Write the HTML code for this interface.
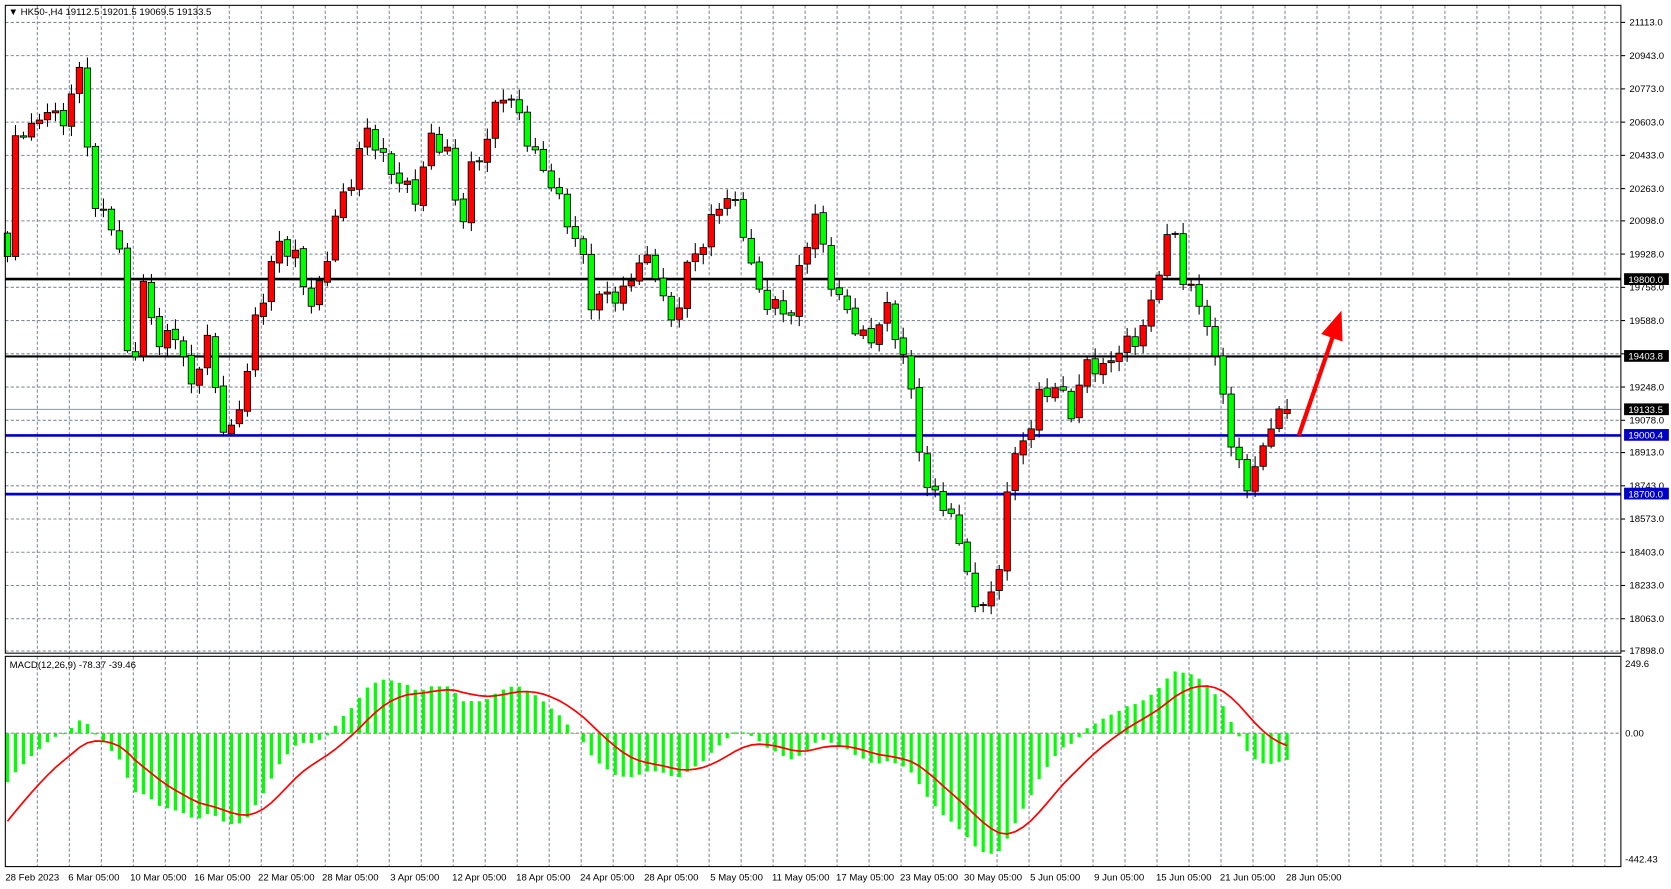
<!DOCTYPE html>
<html><head><meta charset="utf-8"><style>
html,body{margin:0;padding:0;background:#fff;overflow:hidden}
svg{display:block;font-family:"Liberation Sans",sans-serif}
</style></head><body>
<svg id="s" width="1671" height="889" viewBox="0 0 1567 833" preserveAspectRatio="none" xmlns="http://www.w3.org/2000/svg">
<rect x="0" y="0" width="1567" height="833" fill="#fff"/>
<g id="grid" stroke="#7f8a99" stroke-width="1" stroke-dasharray="3,2"></g>
<line x1="5" y1="261.5" x2="1520" y2="261.5" stroke="#000" stroke-width="2.5"/>
<line x1="5" y1="334" x2="1520" y2="334" stroke="#000" stroke-width="2"/>
<line x1="5" y1="383.6" x2="1520" y2="383.6" stroke="#8a96a8" stroke-width="1"/>
<line x1="5" y1="408" x2="1520" y2="408" stroke="#0000c8" stroke-width="2.5"/>
<line x1="5" y1="463" x2="1520" y2="463" stroke="#0000c8" stroke-width="2.5"/>
<g id="candles"></g>
<g id="macd"></g>
<rect x="5" y="5" width="1515" height="607" fill="none" stroke="#000" stroke-width="1"/>
<rect x="5" y="615" width="1515" height="197" fill="none" stroke="#000" stroke-width="1"/>
<line x1="1218" y1="408" x2="1250" y2="315" stroke="#ff0000" stroke-width="4"/>
<polygon points="1258,291 1239,313 1259,320" fill="#ff0000"/>
<g font-size="9" fill="#000" id="lbl">
<text x="8" y="14" font-size="9">▼ HK50-,H4  19112.5 19201.5 19069.5 19133.5</text>
<text x="9" y="626" font-size="9">MACD(12,26,9) -78.37 -39.46</text>
</g>
<g id="plabels" font-size="9" fill="#000"></g>
<rect x="1523" y="256" width="42" height="11" fill="#000"/><text x="1527" y="265" font-size="9" fill="#fff">19800.0</text>
<rect x="1523" y="328" width="42" height="11" fill="#000"/><text x="1527" y="337" font-size="9" fill="#fff">19403.8</text>
<rect x="1523" y="378" width="42" height="11" fill="#000"/><text x="1527" y="387" font-size="9" fill="#fff">19133.5</text>
<rect x="1523" y="402" width="42" height="11" fill="#0000c8"/><text x="1527" y="411" font-size="9" fill="#fff">19000.4</text>
<rect x="1523" y="457" width="42" height="11" fill="#0000c8"/><text x="1527" y="466" font-size="9" fill="#fff">18700.0</text>
<text x="1524" y="625" font-size="9">249.6</text>
<text x="1524" y="690" font-size="9">0.00</text>
<text x="1524" y="808" font-size="9">-442.43</text>
<g font-size="9" fill="#000">
<text x="5" y="825">28 Feb 2023</text>
<text x="64" y="825">6 Mar 05:00</text>
<text x="122" y="825">10 Mar 05:00</text>
<text x="182" y="825">16 Mar 05:00</text>
<text x="242" y="825">22 Mar 05:00</text>
<text x="302" y="825">28 Mar 05:00</text>
<text x="366" y="825">3 Apr 05:00</text>
<text x="424" y="825">12 Apr 05:00</text>
<text x="484" y="825">18 Apr 05:00</text>
<text x="544" y="825">24 Apr 05:00</text>
<text x="604" y="825">28 Apr 05:00</text>
<text x="666" y="825">5 May 05:00</text>
<text x="724" y="825">11 May 05:00</text>
<text x="784" y="825">17 May 05:00</text>
<text x="844" y="825">23 May 05:00</text>
<text x="904" y="825">30 May 05:00</text>
<text x="966" y="825">5 Jun 05:00</text>
<text x="1026" y="825">9 Jun 05:00</text>
<text x="1084" y="825">15 Jun 05:00</text>
<text x="1144" y="825">21 Jun 05:00</text>
<text x="1206" y="825">28 Jun 05:00</text>
</g>
</svg>
<script>
var NS="http://www.w3.org/2000/svg";
function el(t,a,p){var e=document.createElementNS(NS,t);for(var k in a)e.setAttribute(k,a[k]);p.appendChild(e);return e;}
function Y(p){return 21+(21113-p)*0.1832;}
function P(y){return 21113-(y-21)/0.1832;}
var grid=document.getElementById('grid');
for(var x=35;x<1520;x+=30){el('line',{x1:x,y1:5,x2:x,y2:612},grid);el('line',{x1:x,y1:615,x2:x,y2:812},grid);}
var ticks=[21113,20943,20773,20603,20433,20263,20098,19928,19758,19588,19418,19248,19078,18913,18743,18573,18403,18233,18063,17898];
var pl=document.getElementById('plabels');
ticks.forEach(function(t){var y=Y(t);el('line',{x1:5,y1:y,x2:1520,y2:y},grid);
 if(t!==19418){var tx=el('text',{x:1528,y:y+3},pl);tx.textContent=t.toFixed(1);}
 el('line',{x1:1520,y1:y,x2:1524,y2:y,stroke:'#000'},pl);});
el('line',{x1:5,y1:687,x2:1520,y2:687},grid);
var K=[[7,245],[12,145],[20,125],[35,118],[43,90],[58,118],[73,65],[80,115],[88,200],[110,205],[118,320],[125,340],[135,270],[150,330],[165,310],[180,360],[193,310],[208,400],[215,420],[230,360],[240,295],[260,225],[275,240],[290,290],[300,270],[315,195],[330,165],[345,125],[360,155],[375,165],[390,180],[405,130],[420,150],[432,220],[440,160],[455,130],[470,85],[485,110],[500,145],[515,160],[530,200],[545,240],[555,290],[570,275],[585,270],[600,240],[615,260],[630,310],[645,245],[660,220],[680,185],[695,210],[710,270],[725,280],[740,300],[755,240],[765,200],[775,250],[790,280],[805,310],[815,330],[830,290],[848,330],[860,395],[868,460],[880,465],[890,490],[905,520],[915,575],[925,545],[935,560],[945,450],[955,430],[965,405],[975,370],[990,355],[1005,385],[1020,345],[1035,350],[1050,320],[1065,315],[1080,290],[1090,240],[1100,215],[1110,260],[1125,280],[1135,305],[1140,345],[1150,375],[1155,430],[1170,455],[1180,435],[1190,390],[1207,385]];
function interp(x){for(var i=0;i<K.length-1;i++){if(x<=K[i+1][0]){var a=K[i],b=K[i+1];var t=(x-a[0])/(b[0]-a[0]);return a[1]+(b[1]-a[1])*Math.max(0,Math.min(1,t));}}return K[K.length-1][1];}
var N=161,C=[],O=[],H=[],L=[],X=[];
for(var i=0;i<N;i++){var x=7+7.5*i;X.push(x);var c=P(interp(x))+45*Math.sin(i*2.3)+30*Math.sin(i*0.7+1);
 if(i==N-1)c=19133.5;C.push(c);var o=i?C[i-1]+8*Math.sin(i*3.1):c+120;if(i==N-1)o=19112.5;O.push(o);
 H.push(Math.max(o,c)+10+Math.abs(45*Math.sin(i*1.7)));L.push(Math.min(o,c)-10-Math.abs(40*Math.sin(i*2.9+0.5)));}
var cg=document.getElementById('candles');
for(var i=0;i<N;i++){var x=X[i];el('line',{x1:x,y1:Y(H[i]),x2:x,y2:Y(L[i]),stroke:'#000','stroke-width':1},cg);
 var t=Y(Math.max(O[i],C[i])),b=Y(Math.min(O[i],C[i]));
 el('rect',{x:x-3,y:t,width:6,height:Math.max(1,b-t),fill:C[i]>=O[i]?'#ff0000':'#00ff00',stroke:'#000','stroke-width':0.8},cg);}
var mg=document.getElementById('macd');
var e12=C[0]+400,e26=C[0]+550,sig=-345,a12=2/13,a26=2/27,as=2/10,pts=[];
for(var i=0;i<N;i++){e12=e12+a12*(C[i]-e12);e26=e26+a26*(C[i]-e26);var m=e12-e26;sig=sig+as*(m-sig);
 var ym=687-m*0.266;el('rect',{x:X[i]-1.5,y:Math.min(ym,687),width:3,height:Math.abs(ym-687)+0.5,fill:'#00ff00'},mg);
 pts.push(X[i]+','+(687-sig*0.266));}
el('polyline',{points:pts.join(' '),fill:'none',stroke:'#ff0000','stroke-width':1.6},mg);
</script>
</body></html>
